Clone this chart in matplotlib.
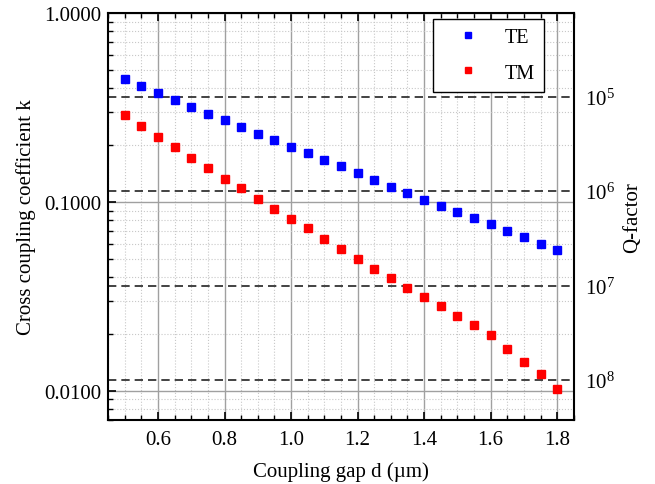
import matplotlib
matplotlib.use("Agg")
import matplotlib.pyplot as plt
import numpy as np
from matplotlib.ticker import MultipleLocator, LogLocator, FixedLocator, NullLocator, FixedFormatter

# gap (um) and cross coupling coefficient values
gap = [0.50, 0.55, 0.60, 0.65, 0.70, 0.75, 0.80, 0.85, 0.90, 0.95, 1.00, 1.05, 1.10, 1.15,
       1.20, 1.25, 1.30, 1.35, 1.40, 1.45, 1.50, 1.55, 1.60, 1.65, 1.70, 1.75, 1.80]
k_te = [0.446, 0.409, 0.376, 0.345, 0.317, 0.291, 0.271, 0.248, 0.228, 0.212, 0.195, 0.181, 0.166, 0.155,
        0.142, 0.130, 0.120, 0.111, 0.102, 0.0949, 0.0883, 0.0820, 0.0762, 0.0703, 0.0653, 0.0597, 0.0555]
k_tm = [0.287, 0.251, 0.221, 0.195, 0.171, 0.151, 0.133, 0.118, 0.104, 0.0915, 0.0810, 0.0726, 0.0637, 0.0561,
        0.0497, 0.0439, 0.0395, 0.0349, 0.0313, 0.0281, 0.0248, 0.0222, 0.0197, 0.0167, 0.0142, 0.0122, 0.0102]

# Q-factor levels shown on the right axis, Q = C / k^2
q_levels = [1e5, 1e6, 1e7, 1e8]
q_labels = [r"$10^5$", r"$10^6$", r"$10^7$", r"$10^8$"]
q_const = 1.30e4

plt.rcParams['font.family'] = ['Liberation Serif', 'DejaVu Serif']
plt.rcParams['mathtext.fontset'] = 'custom'
plt.rcParams['mathtext.rm'] = 'Liberation Serif'
plt.rcParams['mathtext.it'] = 'Liberation Serif:italic'
plt.rcParams['font.size'] = 15

fig = plt.figure(figsize=(6.55, 4.85), dpi=100)
ax = fig.add_axes([0.165, 0.132, 0.711, 0.839])

ax.set_yscale('log')
ax.set_xlim(0.45, 1.85)
ax.set_ylim(0.0070, 1.0)

ax.xaxis.set_major_locator(MultipleLocator(0.2))
ax.xaxis.set_minor_locator(MultipleLocator(0.05))
ax.yaxis.set_major_locator(FixedLocator([0.01, 0.1, 1.0]))
ax.yaxis.set_major_formatter(FixedFormatter(["0.0100", "0.1000", "1.0000"]))
ax.yaxis.set_minor_locator(LogLocator(base=10, subs=np.arange(2, 10)))
ax.yaxis.set_minor_formatter(plt.NullFormatter())

ax.grid(True, which='major', color='#a0a0a0', lw=1.0, ls='-')
ax.grid(True, which='minor', color='#c8c8c8', lw=0.8, ls=':')
ax.set_axisbelow(True)

ax.tick_params(which='both', direction='in', top=True, right=True, labelsize=15)
ax.tick_params(which='major', length=6, width=1.2)
ax.tick_params(which='minor', length=3.5, width=1.0)
ax.tick_params(axis='x', pad=7)
ax.tick_params(axis='y', pad=5)
for s in ax.spines.values():
    s.set_linewidth(1.5)

for q in q_levels:
    ax.axhline(np.sqrt(q_const / q), color='#222222', ls=(0, (5, 3)), lw=1.2, zorder=2)

ax.plot(gap, k_te, 's', color='#0000ff', ms=5.2, ls='none', label='TE', zorder=3)
ax.plot(gap, k_tm, 's', color='#ff0000', ms=5.2, ls='none', label='TM', zorder=3)

ax.set_xlabel("Coupling gap d (µm)", fontsize=15, labelpad=9)
ax.set_ylabel("Cross coupling coefficient k", fontsize=15, labelpad=6)

leg = ax.legend(loc='upper right', bbox_to_anchor=(0.936, 0.985), borderaxespad=0,
                frameon=True, fancybox=False, framealpha=1,
                edgecolor='black', fontsize=14.5, markerscale=0.7, handletextpad=0.6,
                labelspacing=0.8, borderpad=0.45, handlelength=2.5)
leg.get_frame().set_linewidth(1.0)

ax2 = ax.twinx()
ax2.set_yscale('log')
ax2.set_ylim(ax.get_ylim())
ax2.yaxis.set_major_locator(FixedLocator([np.sqrt(q_const / q) for q in q_levels]))
ax2.yaxis.set_major_formatter(FixedFormatter(q_labels))
ax2.yaxis.set_minor_locator(NullLocator())
ax2.tick_params(axis='y', length=0, pad=8, labelsize=15)
ax2.set_ylabel("Q-factor", fontsize=15, labelpad=6)
for s in ax2.spines.values():
    s.set_visible(False)

fig.savefig("out.png", dpi=100)
